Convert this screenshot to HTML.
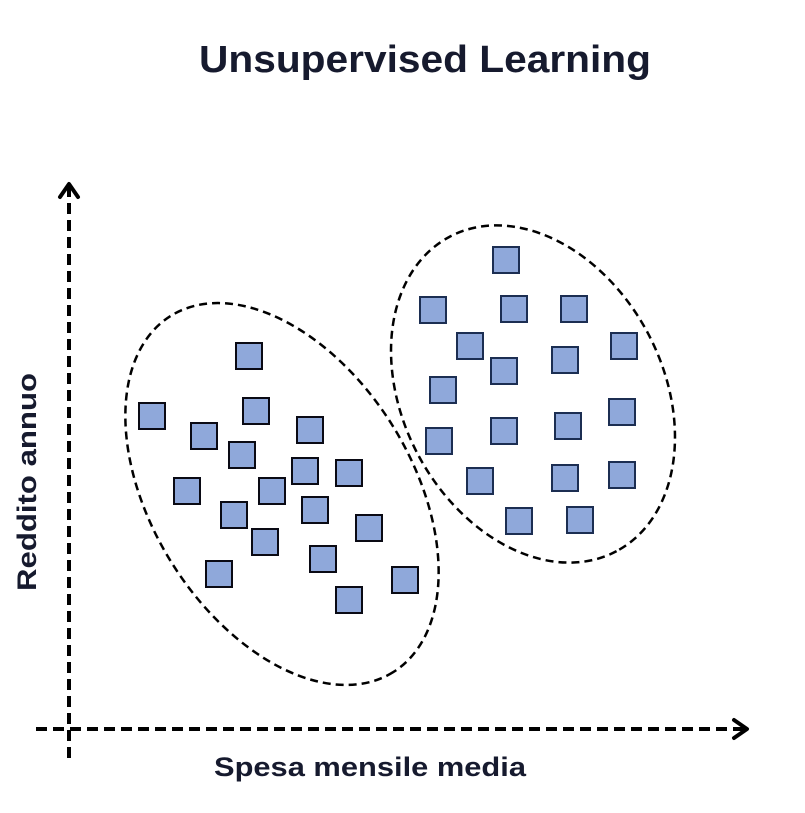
<!DOCTYPE html>
<html><head><meta charset="utf-8"><style>
html,body{margin:0;padding:0;background:#fff;}
svg{display:block;}
</style></head><body>
<svg width="805" height="813" viewBox="0 0 805 813" xmlns="http://www.w3.org/2000/svg">
<text x="425" y="72" text-anchor="middle" font-family="Liberation Sans, sans-serif" font-weight="bold" font-size="38" fill="#161a2e" textLength="452" lengthAdjust="spacingAndGlyphs">Unsupervised Learning</text>
<g stroke="#000" stroke-width="4" fill="none">
<line x1="69" y1="186" x2="69" y2="764" stroke-dasharray="11,6"/>
<line x1="36" y1="729" x2="744" y2="729" stroke-dasharray="11,6"/>
<polyline points="60,197 69,184 78,197" stroke-linecap="round" stroke-linejoin="round"/>
<polyline points="734,720 747,729 734,738" stroke-linecap="round" stroke-linejoin="round"/>
</g>
<g stroke="#000" stroke-width="2.5" fill="none" stroke-dasharray="8,5">
<ellipse cx="282" cy="494" rx="210" ry="130" transform="rotate(58 282 494)"/>
<ellipse cx="533" cy="394" rx="178" ry="130" transform="rotate(62 533 394)"/>
</g>
<g fill="#8fa8da" stroke="#0a0a14" stroke-width="2">
<rect x="236" y="343" width="26" height="26"/>
<rect x="139" y="403" width="26" height="26"/>
<rect x="243" y="398" width="26" height="26"/>
<rect x="191" y="423" width="26" height="26"/>
<rect x="297" y="417" width="26" height="26"/>
<rect x="229" y="442" width="26" height="26"/>
<rect x="292" y="458" width="26" height="26"/>
<rect x="336" y="460" width="26" height="26"/>
<rect x="174" y="478" width="26" height="26"/>
<rect x="259" y="478" width="26" height="26"/>
<rect x="302" y="497" width="26" height="26"/>
<rect x="221" y="502" width="26" height="26"/>
<rect x="356" y="515" width="26" height="26"/>
<rect x="252" y="529" width="26" height="26"/>
<rect x="310" y="546" width="26" height="26"/>
<rect x="206" y="561" width="26" height="26"/>
<rect x="392" y="567" width="26" height="26"/>
<rect x="336" y="587" width="26" height="26"/>
</g>
<g fill="#8fa8da" stroke="#1c2e52" stroke-width="2">
<rect x="493" y="247" width="26" height="26"/>
<rect x="420" y="297" width="26" height="26"/>
<rect x="501" y="296" width="26" height="26"/>
<rect x="561" y="296" width="26" height="26"/>
<rect x="457" y="333" width="26" height="26"/>
<rect x="611" y="333" width="26" height="26"/>
<rect x="552" y="347" width="26" height="26"/>
<rect x="491" y="358" width="26" height="26"/>
<rect x="430" y="377" width="26" height="26"/>
<rect x="609" y="399" width="26" height="26"/>
<rect x="555" y="413" width="26" height="26"/>
<rect x="491" y="418" width="26" height="26"/>
<rect x="426" y="428" width="26" height="26"/>
<rect x="467" y="468" width="26" height="26"/>
<rect x="552" y="465" width="26" height="26"/>
<rect x="609" y="462" width="26" height="26"/>
<rect x="506" y="508" width="26" height="26"/>
<rect x="567" y="507" width="26" height="26"/>
</g>
<text x="370" y="776" text-anchor="middle" font-family="Liberation Sans, sans-serif" font-weight="bold" font-size="27" fill="#161a2e" textLength="312" lengthAdjust="spacingAndGlyphs">Spesa mensile media</text>
<text transform="translate(36,482) rotate(-90)" text-anchor="middle" font-family="Liberation Sans, sans-serif" font-weight="bold" font-size="27" fill="#161a2e" textLength="218" lengthAdjust="spacingAndGlyphs">Reddito annuo</text>
</svg>
</body></html>
